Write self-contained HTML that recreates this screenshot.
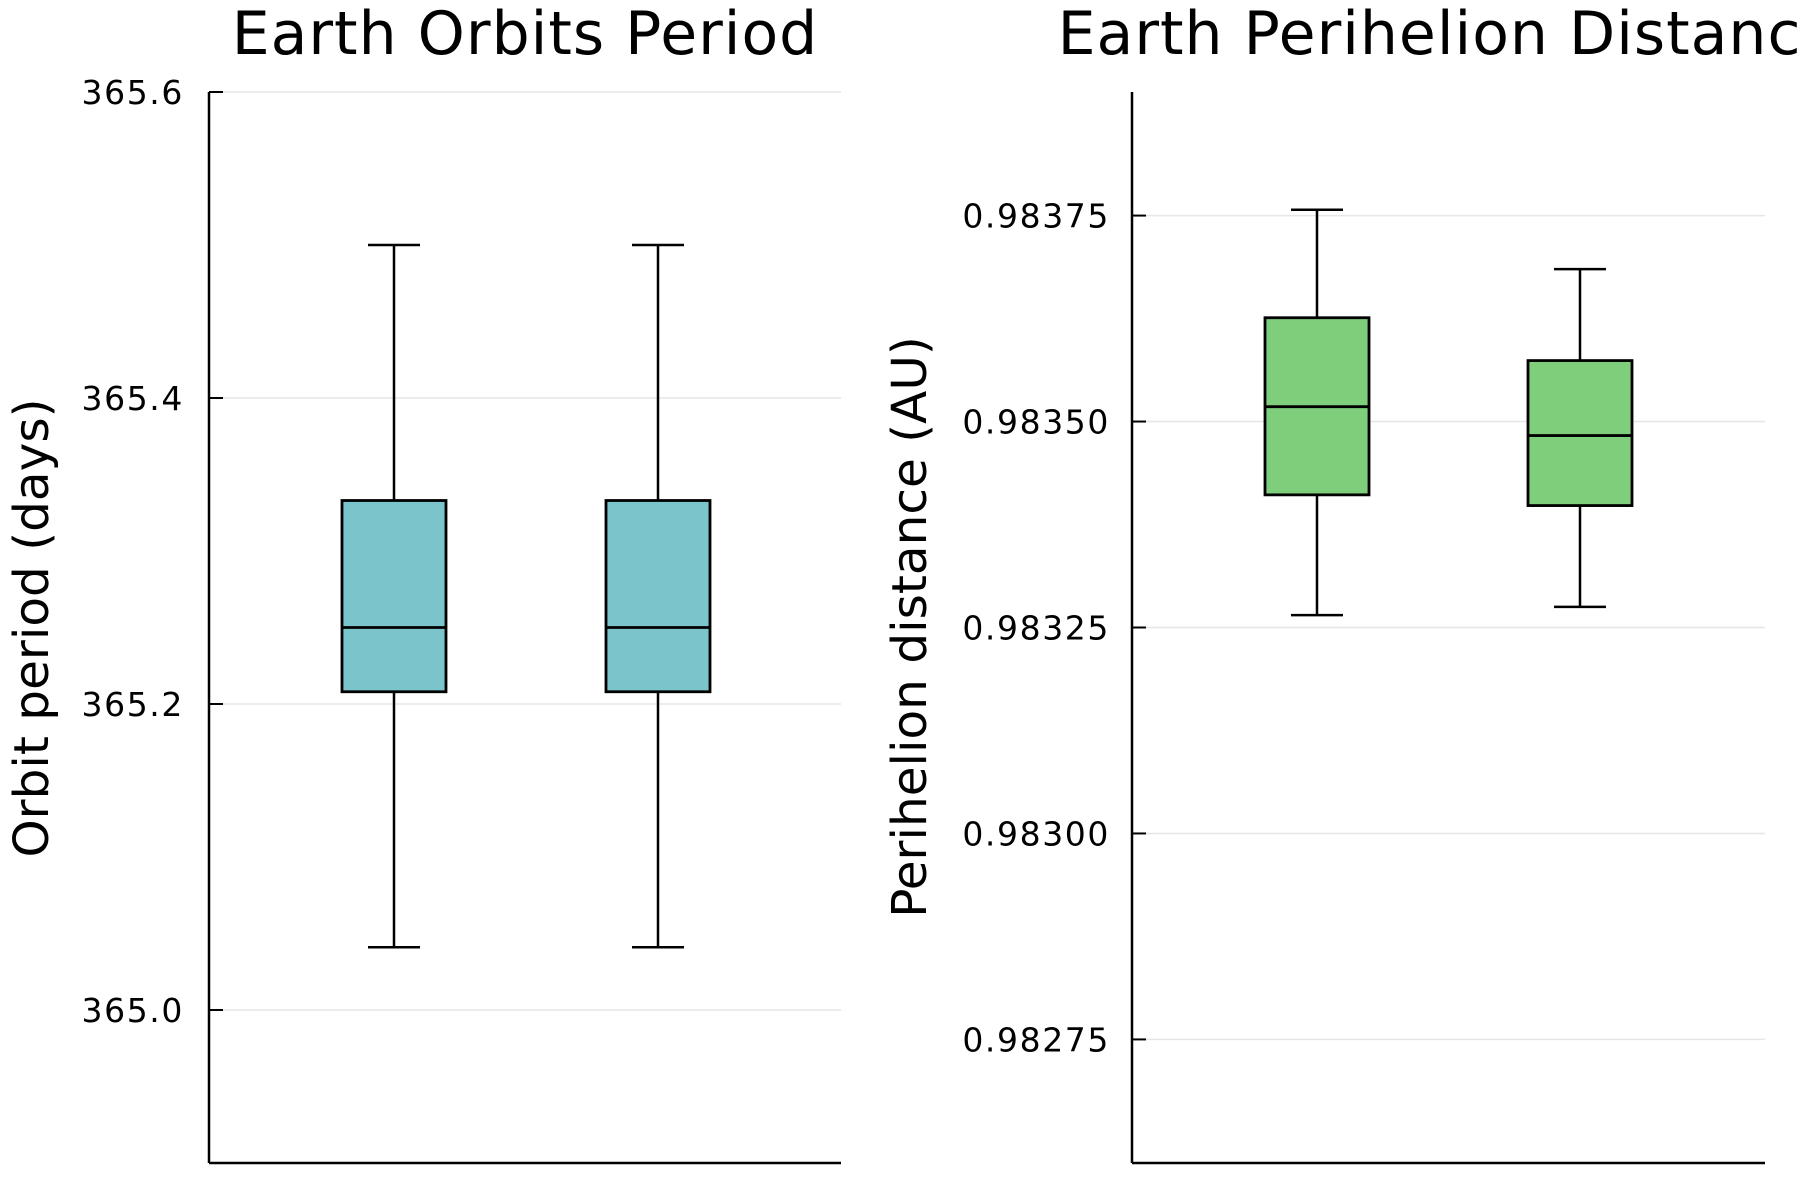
<!DOCTYPE html>
<html><head><meta charset="utf-8"><style>html,body{margin:0;padding:0;background:#fff}svg{display:block}</style></head>
<body>
<svg id="chart" width="1800" height="1200" xmlns="http://www.w3.org/2000/svg" font-family="'DejaVu Sans','Liberation Sans',sans-serif"></svg>
<script>
// Left panel data
const periodCategories = ["group-1", "group-2"];
const periodLowerWhisker = [365.041, 365.041];
const periodQ1 = [365.208, 365.208];
const periodMedian = [365.25, 365.25];
const periodQ3 = [365.333, 365.333];
const periodUpperWhisker = [365.5, 365.5];
const periodTicks = [365.0, 365.2, 365.4, 365.6];
const periodTickLabels = ["365.0", "365.2", "365.4", "365.6"];
// Right panel data
const periCategories = ["group-1", "group-2"];
const periLowerWhisker = [0.983265, 0.983275];
const periQ1 = [0.983411, 0.983398];
const periMedian = [0.983518, 0.983483];
const periQ3 = [0.983626, 0.983574];
const periUpperWhisker = [0.983757, 0.983685];
const periTicks = [0.98275, 0.98300, 0.98325, 0.98350, 0.98375];
const periTickLabels = ["0.98275", "0.98300", "0.98325", "0.98350", "0.98375"];

const NS = "http://www.w3.org/2000/svg";
const svg = document.getElementById("chart");
function mk(tag, attrs, parent) {
  const e = document.createElementNS(NS, tag);
  for (const k in attrs) e.setAttribute(k, attrs[k]);
  (parent || svg).appendChild(e);
  return e;
}

function panel(cfg) {
  const g = mk("g", {});
  
  
  const yS = v => cfg.top + (cfg.ymax - v) / (cfg.ymax - cfg.ymin) * (cfg.bottom - cfg.top);
  cfg.ticks.forEach((t, i) => {
    const y = yS(t);
    const gl = mk("line", {x1: cfg.left, x2: cfg.right, y1: y, y2: y, stroke: "#e6e6e6", "stroke-width": 1.5}, g);
    
    
    const tk = mk("line", {x1: cfg.left, x2: cfg.left + 14, y1: y, y2: y, stroke: "#000", "stroke-width": 2}, g);
    
    
    const tl = mk("text", {x: cfg.left - cfg.labelGap, y: y + 12, "text-anchor": "end", "font-size": 33, "letter-spacing": 1.6, fill: "#000"}, g);
    tl.textContent = cfg.tickLabels[i];
    
    
  });
  const ya = mk("line", {x1: cfg.left, x2: cfg.left, y1: cfg.top, y2: cfg.bottom, stroke: "#000", "stroke-width": 2.5}, g);
  
  
  const xa = mk("line", {x1: cfg.left, x2: cfg.right, y1: cfg.bottom, y2: cfg.bottom, stroke: "#000", "stroke-width": 2.5}, g);
  
  
  const bw = 104, cap = 26;
  cfg.cats.forEach((c, i) => {
    const cx = cfg.centers[i];
    const bg = mk("g", {}, g);
    
    
    const yl = yS(cfg.lw[i]), y1 = yS(cfg.q1[i]), ym = yS(cfg.med[i]), y3 = yS(cfg.q3[i]), yu = yS(cfg.uw[i]);
    mk("line", {x1: cx, x2: cx, y1: yu, y2: y3, stroke: "#000", "stroke-width": 2.5}, bg);
    mk("line", {x1: cx, x2: cx, y1: y1, y2: yl, stroke: "#000", "stroke-width": 2.5}, bg);
    mk("line", {x1: cx - cap, x2: cx + cap, y1: yu, y2: yu, stroke: "#000", "stroke-width": 2.5}, bg);
    mk("line", {x1: cx - cap, x2: cx + cap, y1: yl, y2: yl, stroke: "#000", "stroke-width": 2.5}, bg);
    mk("rect", {x: cx - bw / 2, y: y3, width: bw, height: y1 - y3, fill: cfg.color, stroke: "#000", "stroke-width": 2.8}, bg);
    mk("line", {x1: cx - bw / 2, x2: cx + bw / 2, y1: ym, y2: ym, stroke: "#000", "stroke-width": 2.8}, bg);
  });
  const tt = mk("text", {x: (cfg.left + cfg.right) / 2, y: 54, "text-anchor": "middle", "font-size": 60, "letter-spacing": 1.0, fill: "#000"}, g);
  tt.textContent = cfg.title;
  
  
  const cyl = cfg.ylabelY;
  const yl = mk("text", {x: cfg.ylabelX, y: cyl, "text-anchor": "middle", "font-size": 48.5, fill: "#000", transform: `rotate(-90 ${cfg.ylabelX} ${cyl})`}, g);
  yl.textContent = cfg.ylabel;
  
  
}

panel({name: "orbit-period-panel", title: "Earth Orbits Period", ylabel: "Orbit period (days)",
  left: 209, right: 841, top: 92, bottom: 1163, ymin: 364.9, ymax: 365.6, labelGap: 25,
  cats: periodCategories, centers: [394, 658], lw: periodLowerWhisker, q1: periodQ1, med: periodMedian, q3: periodQ3, uw: periodUpperWhisker,
  ticks: periodTicks, tickLabels: periodTickLabels, color: "#7bc4cb", ylabelX: 48, ylabelY: 628});
panel({name: "perihelion-panel", title: "Earth Perihelion Distance", ylabel: "Perihelion distance (AU)",
  left: 1132, right: 1765, top: 92, bottom: 1163, ymin: 0.98260, ymax: 0.98390, labelGap: 22,
  cats: periCategories, centers: [1317, 1580], lw: periLowerWhisker, q1: periQ1, med: periMedian, q3: periQ3, uw: periUpperWhisker,
  ticks: periTicks, tickLabels: periTickLabels, color: "#7ece7c", ylabelX: 926, ylabelY: 627});
</script>
</body></html>
